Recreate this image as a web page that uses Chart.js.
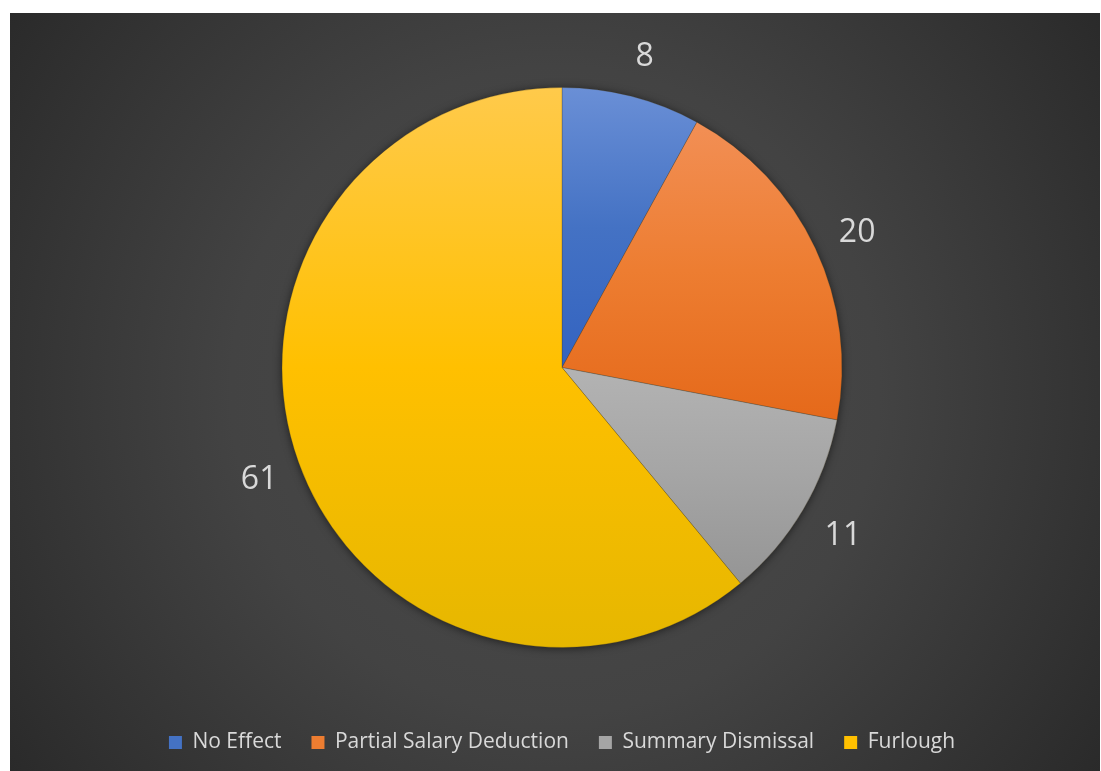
<!DOCTYPE html>
<html>
<head>
<meta charset="utf-8">
<script src="https://cdn.jsdelivr.net/npm/chart.js@4/dist/chart.umd.min.js"></script>
<style>
  html, body { margin: 0; padding: 0; background: #fff; }
  #wrap { width: 1101px; height: 771px; }
</style>
</head>
<body>
<div id="wrap"><canvas id="pieChart" width="1101" height="771"></canvas></div>
<script>
const categories = ["No Effect", "Partial Salary Deduction", "Summary Dismissal", "Furlough"];
const counts = [8, 20, 11, 61];
const baseColors = ["#4472c4", "#ed7d31", "#a5a5a5", "#ffc000"];
const topColors = ["#6a8fd6", "#f28f55", "#b3b3b3", "#ffca4b"];
const bottomColors = ["#3363c0", "#e5691a", "#959595", "#e6b700"];
const PIE_RADIUS = 280;

// y-extent of one slice, so every slice gets its own top-to-bottom gradient
function sliceBounds(cx, cy, r, a0, a1) {
  const ys = [cy, cy + r * Math.sin(a0), cy + r * Math.sin(a1)];
  for (const a of [-Math.PI / 2, Math.PI / 2, 3 * Math.PI / 2]) {
    if (a > a0 && a < a1) ys.push(cy + r * Math.sin(a));
  }
  return [Math.min(...ys), Math.max(...ys)];
}

function sliceFill(ctx) {
  const chart = ctx.chart;
  const area = chart.chartArea;
  const i = ctx.dataIndex;
  if (!area) return baseColors[i];
  const total = counts.reduce((s, v) => s + v, 0);
  const before = counts.slice(0, i).reduce((s, v) => s + v, 0);
  const a0 = -Math.PI / 2 + before / total * 2 * Math.PI;
  const a1 = a0 + counts[i] / total * 2 * Math.PI;
  const cx = (area.left + area.right) / 2;
  const cy = (area.top + area.bottom) / 2;
  const [y0, y1] = sliceBounds(cx, cy, PIE_RADIUS, a0, a1);
  const g = chart.ctx.createLinearGradient(0, y0, 0, y1);
  g.addColorStop(0, topColors[i]);
  g.addColorStop(0.5, baseColors[i]);
  g.addColorStop(1, bottomColors[i]);
  return g;
}

const backdrop = {
  id: "backdrop",
  beforeDraw(chart) {
    const c = chart.ctx;
    c.save();
    c.fillStyle = "#ffffff";
    c.fillRect(0, 0, chart.width, chart.height);
    const g = c.createRadialGradient(555, 390, 0, 555, 390, 720);
    g.addColorStop(0, "#4b4b4b");
    g.addColorStop(0.45, "#434343");
    g.addColorStop(1, "#262626");
    c.fillStyle = g;
    c.fillRect(10, 13, chart.width - 11, chart.height - 13);
    c.restore();
  },
  beforeDatasetsDraw(chart) {
    const arc = chart.getDatasetMeta(0).data[0];
    if (!arc) return;
    const c = chart.ctx;
    c.save();
    c.shadowColor = "rgba(0,0,0,0.55)";
    c.shadowBlur = 9;
    c.shadowOffsetX = 0;
    c.shadowOffsetY = 1;
    c.fillStyle = "#3a3a3a";
    c.beginPath();
    c.arc(arc.x, arc.y, arc.outerRadius, 0, Math.PI * 2);
    c.fill();
    c.restore();
  }
};

const outsideLabels = {
  id: "outsideLabels",
  afterDatasetsDraw(chart) {
    const c = chart.ctx;
    const meta = chart.getDatasetMeta(0);
    c.save();
    c.font = "32px 'Open Sans'";
    c.fillStyle = "#d9d9d9";
    c.textAlign = "center";
    c.textBaseline = "middle";
    meta.data.forEach((arc, i) => {
      const mid = (arc.startAngle + arc.endAngle) / 2;
      const d = arc.outerRadius + 44;
      c.fillText(String(counts[i]), arc.x + Math.cos(mid) * d + 2, arc.y + Math.sin(mid) * d + 3);
    });
    c.restore();
  }
};

new Chart(document.getElementById("pieChart"), {
  type: "pie",
  data: {
    labels: categories,
    datasets: [{
      data: counts,
      backgroundColor: sliceFill,
      borderColor: "rgba(70,60,30,0.35)",
      borderWidth: 0.8,
      radius: PIE_RADIUS
    }]
  },
  options: {
    responsive: false,
    animation: false,
    layout: { padding: { top: 33, bottom: 8, left: 23, right: 0 } },
    plugins: {
      tooltip: { enabled: false },
      legend: {
        position: "bottom",
        labels: {
          color: "#d9d9d9",
          font: { family: "'Open Sans'", size: 21 },
          boxWidth: 13,
          boxHeight: 13,
          padding: 30,
          generateLabels: chart => categories.map((name, i) => ({
            text: name,
            fillStyle: baseColors[i],
            strokeStyle: baseColors[i],
            lineWidth: 0,
            fontColor: "#d9d9d9",
            index: i
          }))
        }
      }
    }
  },
  plugins: [backdrop, outsideLabels]
});
</script>
</body>
</html>
